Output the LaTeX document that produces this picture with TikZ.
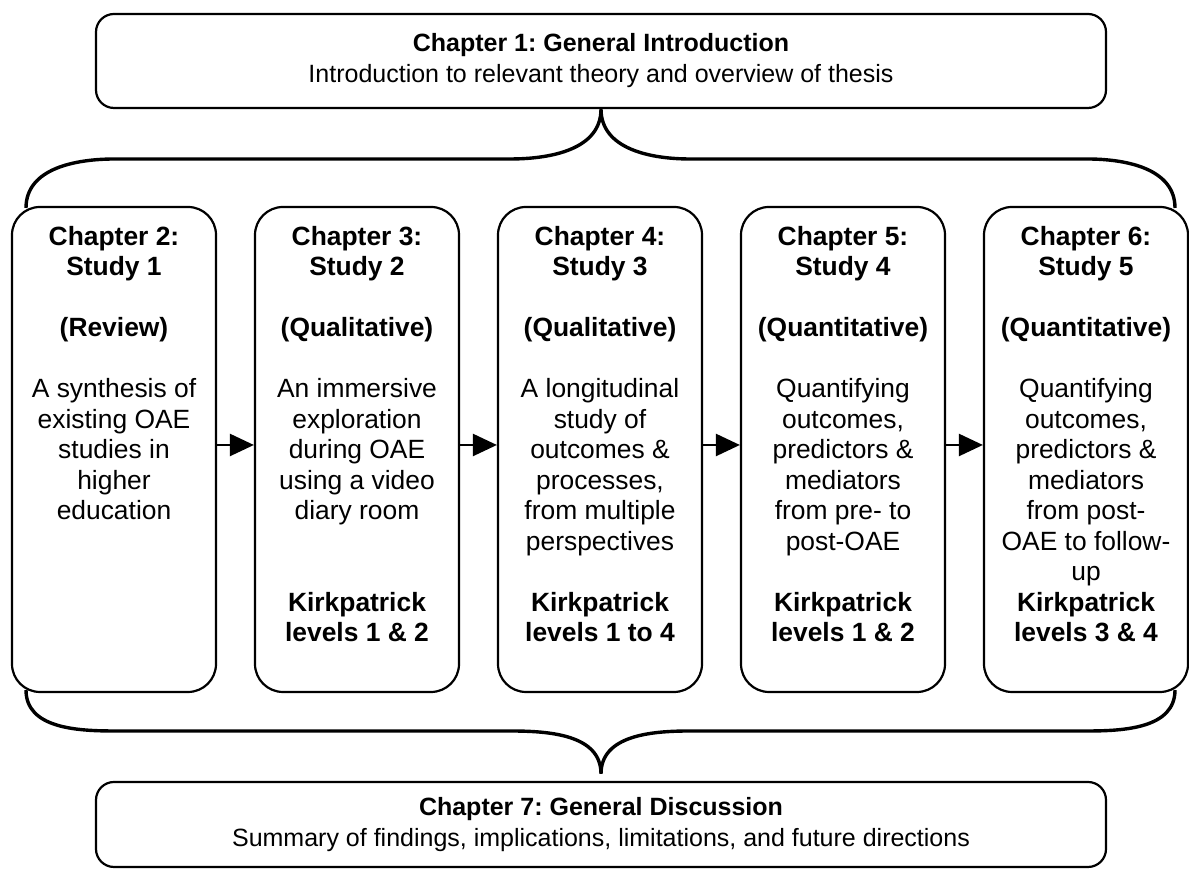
\documentclass[tikz,border=0pt]{standalone}
\usepackage{fontspec}
\setmainfont{Liberation Sans}
\usetikzlibrary{positioning}
\usetikzlibrary{arrows.meta}
\frenchspacing

\begin{document}
\begin{tikzpicture}[x=0.5pt,y=0.5pt]
\tikzset{widebox/.style = {draw, line width=1.1pt, rounded corners=9pt, minimum width=505pt, inner sep=0pt, align=center, font=\fontsize{12.5}{15.5}\selectfont}}
\tikzset{chapbox/.style = {draw, line width=1.1pt, rounded corners=14pt, minimum width=102pt, minimum height=242.5pt, inner sep=0pt}}
\tikzset{chaptext/.style = {align=center, inner sep=0pt, font=\fontsize{13.2}{15.25}\selectfont}}
\tikzset{flow/.style = {-{Triangle[length=12pt,width=11pt]}, line width=1.2pt}}
\tikzset{brace/.style = {line width=1.7pt}}
\useasboundingbox (0,0) rectangle (1189,870);
\node[widebox, minimum height=47pt](intro) at (601, 809) {\textbf{Chapter 1: General Introduction}\\Introduction to relevant theory and overview of thesis};
\node[widebox, minimum height=42.5pt](disc) at (601, 45.5) {\textbf{Chapter 7: General Discussion}\\Summary of findings, implications, limitations, and future directions};
\node[chapbox](s1) at (114, 420.5) {};
\node[chapbox](s2) at (357, 420.5) {};
\node[chapbox](s3) at (600, 420.5) {};
\node[chapbox](s4) at (843, 420.5) {};
\node[chapbox](s5) at (1086, 420.5) {};
\node[chaptext, below=9.9pt of s1.north](t1) {\textbf{Chapter 2:}\\\textbf{Study 1}\\~\\\textbf{(Review)}\\~\\A synthesis of\\existing OAE\\studies in\\higher\\education};
\node[chaptext, below=9.9pt of s2.north](t2) {\textbf{Chapter 3:}\\\textbf{Study 2}\\~\\\textbf{(Qualitative)}\\~\\An immersive\\exploration\\during OAE\\using a video\\diary room\\~\\~\\\textbf{Kirkpatrick}\\\textbf{levels 1 \& 2}};
\node[chaptext, below=9.9pt of s3.north](t3) {\textbf{Chapter 4:}\\\textbf{Study 3}\\~\\\textbf{(Qualitative)}\\~\\A longitudinal\\study of\\outcomes \&\\processes,\\from multiple\\perspectives\\~\\\textbf{Kirkpatrick}\\\textbf{levels 1 to 4}};
\node[chaptext, below=9.9pt of s4.north](t4) {\textbf{Chapter 5:}\\\textbf{Study 4}\\~\\\textbf{(Quantitative)}\\~\\Quantifying\\outcomes,\\predictors \&\\mediators\\from pre- to\\post-OAE\\~\\\textbf{Kirkpatrick}\\\textbf{levels 1 \& 2}};
\node[chaptext, below=9.9pt of s5.north](t5) {\textbf{Chapter 6:}\\\textbf{Study 5}\\~\\\textbf{(Quantitative)}\\~\\Quantifying\\outcomes,\\predictors \&\\mediators\\from post-\\OAE to follow-\\up\\\textbf{Kirkpatrick}\\\textbf{levels 3 \& 4}};
\draw[flow] ([yshift=2.25pt]s1.east) -- ([yshift=2.25pt]s2.west);
\draw[flow] ([yshift=2.25pt]s2.east) -- ([yshift=2.25pt]s3.west);
\draw[flow] ([yshift=2.25pt]s3.east) -- ([yshift=2.25pt]s4.west);
\draw[flow] ([yshift=2.25pt]s4.east) -- ([yshift=2.25pt]s5.west);
% braces
\coordinate (tl) at (26, 662);
\coordinate (tr) at (1175, 662);
\coordinate (bl) at (26, 180);
\coordinate (br) at (1175, 180);
\coordinate (tip) at ([yshift=3.5pt]disc.north);
\draw[brace] (tl) to[out=90, in=180] (115, 711) -- (510, 711) to[out=0, in=-90] (intro.south) to[out=-90, in=180] (690, 711) -- (1087, 711) to[out=0, in=90] (tr);
\draw[brace] (bl) to[out=-90, in=180] (115, 139) -- (510, 139) to[out=0, in=90] (tip) to[out=90, in=180] (690, 139) -- (1087, 139) to[out=0, in=-90] (br);
\end{tikzpicture}
\end{document}
